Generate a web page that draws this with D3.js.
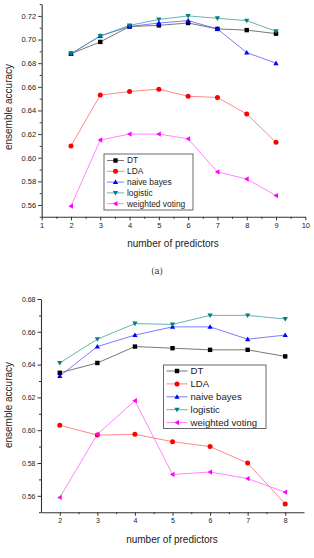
<!DOCTYPE html>
<html><head><meta charset="utf-8">
<script src="https://cdn.jsdelivr.net/npm/d3@7"></script>
<style>body{margin:0;background:#fff}svg{display:block;font-family:"Liberation Sans",Arial,sans-serif}</style>
</head><body>
<svg id="c" width="314" height="558"></svg>
<script>
const seriesNames = ["DT","LDA","naive bayes","logistic","weighted voting"];
const seriesColors = ["#000000","#ff0000","#0000ff","#008080","#ff00ff"];
const seriesLineColors = ["#555555","#ff6a6a","#5a5aff","#40a0a0","#ff66ff"];
const seriesShapes = ["square","circle","triUp","triDown","triLeft"];

// Panel (a)
const xA = [2,3,4,5,6,7,8,9];
const dtA = [0.688,0.698,0.711,0.712,0.714,0.709,0.708,0.705];
const ldaA = [0.610,0.653,0.656,0.658,0.652,0.651,0.637,0.613];
const nbA = [0.688,0.703,0.711,0.714,0.716,0.709,0.689,0.680];
const logA = [0.688,0.703,0.712,0.717,0.720,0.718,0.716,0.707];
const wvA = [0.559,0.615,0.620,0.620,0.616,0.588,0.582,0.568];
const xTicksA = [1,2,3,4,5,6,7,8,9,10];
const yTicksA = [0.56,0.58,0.60,0.62,0.64,0.66,0.68,0.70,0.72];

// Panel (b)
const xB = [2,3,4,5,6,7,8];
const dtB = [0.635,0.641,0.651,0.650,0.649,0.649,0.645];
const ldaB = [0.603,0.597,0.5975,0.593,0.590,0.580,0.555];
const nbB = [0.633,0.651,0.658,0.663,0.663,0.6555,0.658];
const logB = [0.641,0.6555,0.665,0.6645,0.670,0.670,0.6678];
const wvB = [0.559,0.5975,0.618,0.573,0.5745,0.5705,0.5622];
const xTicksB = [2,3,4,5,6,7,8];
const yTicksB = [0.56,0.58,0.60,0.62,0.64,0.66,0.68];

const svg = d3.select("#c");

function marker(g, shape, x, y, color, s) {
  if (shape === "square") {
    g.append("rect").attr("x", x - s/2).attr("y", y - s/2).attr("width", s).attr("height", s).attr("fill", color);
  } else if (shape === "circle") {
    g.append("circle").attr("cx", x).attr("cy", y).attr("r", s/2 + 0.3).attr("fill", color);
  } else {
    const h = s * 0.6;
    let pts;
    if (shape === "triUp") pts = [[x, y - h], [x - h, y + h*0.75], [x + h, y + h*0.75]];
    else if (shape === "triDown") pts = [[x, y + h], [x - h, y - h*0.75], [x + h, y - h*0.75]];
    else pts = [[x - h, y], [x + h*0.75, y - h], [x + h*0.75, y + h]];
    g.append("polygon").attr("points", pts.map(p => p.join(",")).join(" ")).attr("fill", color);
  }
}

function panel(cfg) {
  const g = svg.append("g");
  const x = d3.scaleLinear().domain(cfg.xDomain).range(cfg.xRange);
  const y = d3.scaleLinear().domain(cfg.yDomain).range(cfg.yRange);
  const xAxis = d3.axisBottom(x).tickValues(cfg.xTicks).tickFormat(d3.format("d")).tickSizeInner(3.5).tickSizeOuter(0).tickPadding(2);
  const xMinor = d3.axisBottom(x).tickValues(cfg.xMinor).tickFormat("").tickSizeInner(2).tickSizeOuter(0);
  const yAxis = d3.axisLeft(y).tickValues(cfg.yTicks).tickFormat(d3.format(".2f")).tickSizeInner(3.5).tickSizeOuter(0).tickPadding(2);
  const yMinor = d3.axisLeft(y).tickValues(cfg.yMinor).tickFormat("").tickSizeInner(2).tickSizeOuter(0);
  g.append("g").attr("transform", `translate(0,${cfg.yRange[0]})`).call(xAxis);
  g.append("g").attr("transform", `translate(0,${cfg.yRange[0]})`).call(xMinor).select(".domain").remove();
  g.append("g").attr("transform", `translate(${cfg.xRange[0]},0)`).call(yAxis);
  g.append("g").attr("transform", `translate(${cfg.xRange[0]},0)`).call(yMinor).select(".domain").remove();
  g.selectAll(".domain").attr("stroke", "#333").attr("stroke-width", 1.1);
  g.selectAll(".tick line").attr("stroke", "#333");
  g.selectAll(".tick text").attr("font-size", cfg.tickFont).attr("fill", "#222").attr("font-family", "Liberation Sans, Arial, sans-serif");

  const line = d3.line().x(d => x(d[0])).y(d => y(d[1]));
  cfg.series.forEach((vals, i) => {
    const pts = cfg.xs.map((xv, j) => [xv, vals[j]]);
    g.append("path").attr("d", line(pts)).attr("fill", "none").attr("stroke", seriesLineColors[i]).attr("stroke-width", 0.8);
  });
  cfg.series.forEach((vals, i) => {
    cfg.xs.forEach((xv, j) => marker(g, seriesShapes[i], x(xv), y(vals[j]), seriesColors[i], cfg.ms));
  });

  const L = cfg.legend;
  g.append("rect").attr("x", L.x).attr("y", L.y).attr("width", L.w).attr("height", L.h)
    .attr("fill", "#fff").attr("stroke", "#444").attr("stroke-width", 0.8);
  seriesNames.forEach((name, i) => {
    const yy = L.y + L.first + i * L.step;
    g.append("line").attr("x1", L.x + 3).attr("x2", L.x + 3 + L.lineLen).attr("y1", yy).attr("y2", yy)
      .attr("stroke", seriesLineColors[i]).attr("stroke-width", 0.8);
    marker(g, seriesShapes[i], L.x + 3 + L.lineLen/2, yy, seriesColors[i], cfg.ms);
    g.append("text").attr("x", L.x + 6 + L.lineLen).attr("y", yy).attr("dy", "0.35em")
      .attr("font-size", L.font).attr("fill", "#222").text(name);
  });

  g.append("text").attr("x", cfg.xLabel[0]).attr("y", cfg.xLabel[1]).attr("text-anchor", "middle")
    .attr("font-size", cfg.labelFont).attr("fill", "#222").text("number of predictors");
  g.append("text").attr("transform", `translate(${cfg.yLabel[0]},${cfg.yLabel[1]}) rotate(-90)`)
    .attr("text-anchor", "middle").attr("font-size", cfg.labelFont).attr("fill", "#222").text("ensemble accuracy");
}

panel({
  xDomain: [1, 10], xRange: [41.7, 305.3],
  yDomain: [0.55, 0.73], yRange: [216.8, 4.1],
  xTicks: xTicksA, xMinor: d3.range(1.5, 10, 1),
  yTicks: yTicksA, yMinor: d3.range(0.55, 0.731, 0.02).map(v => +v.toFixed(3)),
  xs: xA, series: [dtA, ldaA, nbA, logA, wvA],
  tickFont: 7.5, labelFont: 10, ms: 4.4,
  legend: {x: 104, y: 154, w: 89, h: 56, first: 6.5, step: 10.8, lineLen: 17, font: 8.4},
  xLabel: [173, 247], yLabel: [12, 107]
});

panel({
  xDomain: [1.5, 8.5], xRange: [41, 304],
  yDomain: [0.55, 0.68], yRange: [512.2, 299],
  xTicks: xTicksB, xMinor: d3.range(2.5, 8.5, 1),
  yTicks: yTicksB, yMinor: d3.range(0.55, 0.681, 0.02).map(v => +v.toFixed(3)),
  xs: xB, series: [dtB, ldaB, nbB, logB, wvB],
  tickFont: 7, labelFont: 10, ms: 4.4,
  legend: {x: 163.5, y: 365, w: 102.5, h: 63.5, first: 6, step: 12.9, lineLen: 21, font: 9.6},
  xLabel: [172, 543], yLabel: [12, 405]
});

svg.append("text").attr("x", 157).attr("y", 274).attr("text-anchor", "middle")
  .attr("font-family", "DejaVu Serif, Liberation Serif, serif").attr("font-size", 8.5).attr("fill", "#333").text("(a)");
</script>
</body></html>
